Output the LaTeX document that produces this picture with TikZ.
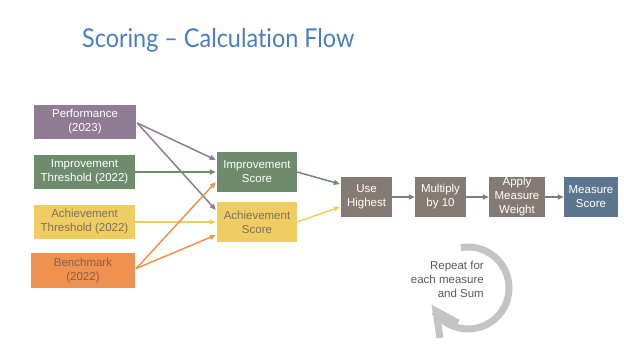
\documentclass[tikz,border=0pt]{standalone}
\usepackage{fontspec}
\setmainfont{Liberation Sans}
\newfontfamily\titlefont[Ligatures=NoCommon]{Lato}
\usetikzlibrary{arrows.meta,calc}
\definecolor{cpurple}{HTML}{8F7B93}
\definecolor{cgreen}{HTML}{6E8B6C}
\definecolor{cyellow}{HTML}{F0CD62}
\definecolor{corange}{HTML}{EF9150}
\definecolor{cgray}{HTML}{857B74}
\definecolor{cblue}{HTML}{5D7690}
\definecolor{ctitle}{HTML}{4A7EC4}
\definecolor{ctxtyel}{HTML}{7A7260}
\definecolor{ctxtor}{HTML}{8A6048}
\definecolor{crep}{HTML}{C4C4C4}
\definecolor{creptxt}{HTML}{595959}
\begin{document}
\begin{tikzpicture}[x=1pt,y=-1pt,
  box/.style={draw=none,minimum width=#1,inner sep=0pt,align=center,
    font=\fontsize{11.5}{14}\selectfont,text=white},
  conn/.style={line width=1.5pt,-{Triangle[length=6pt,width=5pt]}}]
\useasboundingbox (0,0) rectangle (624,351);
\node[anchor=base west,text=ctitle,font=\titlefont\fontsize{26}{30}\selectfont,inner sep=0pt] (title) at (82,47) {\scalebox{0.9}[1]{Scoring – Calculation Flow}};

\node[box=102pt,minimum height=34pt,fill=cpurple] (perf) at (85,122) {Performance\\(2023)};
\node[box=101pt,minimum height=34pt,fill=cgreen] (impth) at (84.5,172) {Improvement\\Threshold (2022)};
\node[box=101pt,minimum height=34pt,fill=cyellow,text=ctxtyel] (achth) at (84.5,222) {Achievement\\Threshold (2022)};
\node[box=104pt,minimum height=35pt,fill=corange,text=ctxtor] (bench) at (83,270.5) {Benchmark\\(2022)};

\node[box=80pt,minimum height=40pt,fill=cgreen] (imps) at (257,172) {Improvement\\Score};
\node[box=80pt,minimum height=40pt,fill=cyellow,text=ctxtyel] (achs) at (257,222) {Achievement\\Score};

\node[box=51pt,minimum height=40pt,fill=cgray] (use) at (366.5,197) {Use\\Highest};
\node[box=51pt,minimum height=40pt,fill=cgray] (mult) at (440.5,197) {Multiply\\by 10};
\node[box=56pt,minimum height=40pt,fill=cgray] (apply) at (517,197) {Apply\\Measure\\Weight};
\node[box=54pt,minimum height=40pt,fill=cblue] (meas) at (591,197) {Measure\\Score};

\draw[conn,cpurple] ($(perf.east)+(1,1)$) -- ($(imps.west)+(-1,-12)$);
\draw[conn,cpurple] ($(perf.east)+(1,1)$) -- ($(achs.west)+(-1,-12)$);
\draw[conn,cgreen] (impth.east) -- ($(imps.west)+(-1,0)$);
\draw[conn,cyellow] (achth.east) -- ($(achs.west)+(-1,0)$);
\draw[conn,corange] ($(bench.east)+(1,-2)$) -- ($(imps.west)+(-1,10)$);
\draw[conn,corange] ($(bench.east)+(1,-2)$) -- ($(achs.west)+(-1,13)$);
\draw[conn,cgreen] (imps.east) -- ($(use.west)+(-1,-13)$);
\draw[conn,cyellow] (achs.east) -- ($(use.west)+(-1,10)$);
\draw[conn,cgray] (use.east) -- (mult.west);
\draw[conn,cgray] (mult.east) -- (apply.west);
\draw[conn,cgray] (apply.east) -- (meas.west);

% repeat loop
\coordinate (rc) at (468,288);
\draw[crep,line width=7pt] (rc) ++(-100:41) arc[start angle=-100,end angle=145,radius=41];
\coordinate (tip) at (436,311);
\draw[crep,line width=7pt,line join=miter] (458,323) -- (tip) -- (440,338);
\node[anchor=north east,align=right,text=creptxt,inner sep=0pt,font=\fontsize{11.5}{14}\selectfont] (rep) at (484,261) {Repeat for\\each measure\\and Sum};
\end{tikzpicture}
\end{document}
